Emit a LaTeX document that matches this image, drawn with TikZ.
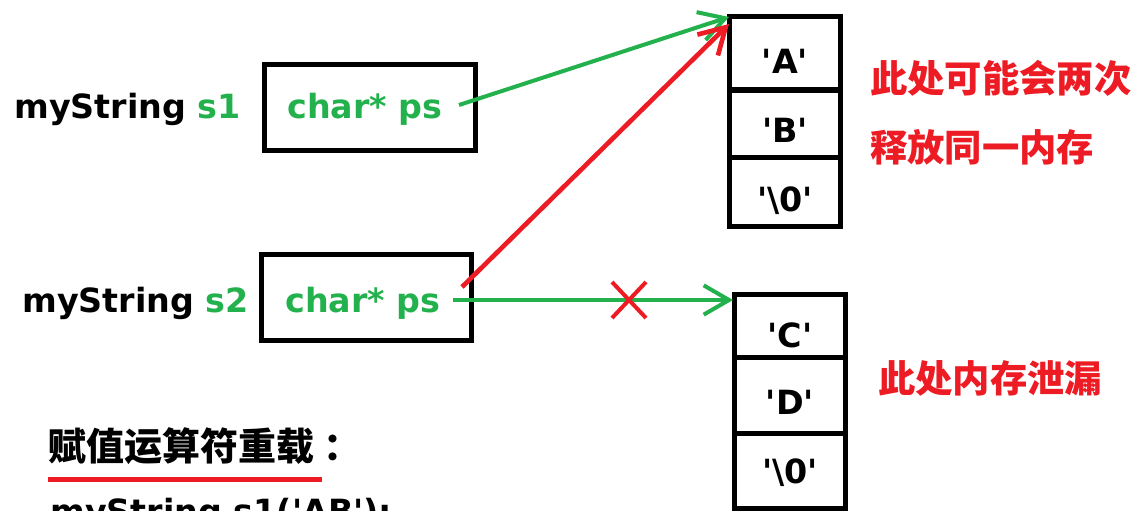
\documentclass[tikz,border=0pt]{standalone}
\usepackage{fontspec}
\setmainfont{DejaVu Sans}
\newfontfamily\cjk{Noto Sans CJK SC}
\usetikzlibrary{arrows.meta,calc}
\definecolor{grn}{RGB}{34,177,76}
\definecolor{rd}{RGB}{237,28,36}
\newcommand{\sq}{\textquotesingle}

\begin{document}
\begin{tikzpicture}[x=0.75pt,y=-0.75pt,
  lbl/.style={font=\bfseries\fontsize{25}{28}\selectfont, inner sep=0, anchor=base west},
  ptrbox/.style={draw, line width=3.75pt, minimum width=158pt, minimum height=64.5pt, inner sep=0},
  cellbox/.style={draw, line width=3.75pt, minimum width=83.25pt, inner sep=0},
  celltxt/.style={font=\bfseries\fontsize{25}{28}\selectfont, inner sep=0},
  note/.style={text=rd, font=\cjk\bfseries\fontsize{28}{30}\selectfont, anchor=west, inner sep=0},
  ptr/.style={line width=3pt, -{Straight Barb[length=19pt, width=22pt]}},
  crossline/.style={rd, line width=3pt}
]
\path[use as bounding box, clip] (0,0) rectangle (1137,510);

% pointer holders
\node[lbl] (n1) at (14,118) {myString \textcolor{grn}{s1}};
\node[ptrbox] (b1) at (370,107.5) {};
\node[lbl, text=grn] (t1) at (287,118) {char* ps};

\node[lbl] (n2) at (22,312) {myString \textcolor{grn}{s2}};
\node[ptrbox] (b2) at (366.5,297.5) {};
\node[lbl, text=grn] (t2) at (285,312) {char* ps};

% first heap block
\node[cellbox, minimum height=55.1pt] (a) at (785,53.25) {};
\node[cellbox, minimum height=50.25pt] (b) at (785,123.5) {};
\node[cellbox, minimum height=51.75pt] (z1) at (785,191.5) {};
\node[celltxt] (ta) at (785,61) {\sq A\sq};
\node[celltxt] (tb) at (785,130) {\sq B\sq};
\node[celltxt] (tz1) at (785,201) {\sq\textbackslash0\sq};

% second heap block
\node[cellbox, minimum height=46.9pt] (c) at (790,325.75) {};
\node[cellbox, minimum height=57pt] (d) at (790,395) {};
\node[cellbox, minimum height=56.25pt] (z2) at (790,470.5) {};
\node[celltxt] (tc) at (790,335) {\sq C\sq};
\node[celltxt] (td) at (790,402) {\sq D\sq};
\node[celltxt] (tz2) at (790,473) {\sq\textbackslash0\sq};

% connector ends
\coordinate (s1) at (459,105);
\coordinate (s2r) at (462,287);
\coordinate (s2g) at (453,300);
\coordinate (e1g) at (729,17);
\coordinate (e1r) at (729,24);
\coordinate (e2) at (733,300);
\coordinate (x) at (629,300);

\draw[ptr, grn] (s1) -- (e1g);
\draw[ptr, rd, line width=3.5pt] (s2r) -- (e1r);
\draw[ptr, grn] (s2g) -- (e2);
\draw[crossline] ($(x)+(-17,-18)$) -- ($(x)+(17,18)$);
\draw[crossline] ($(x)+(17,-18)$) -- ($(x)+(-17,18)$);

% remarks
\node[note] (m1) at (870,78) {此处可能会两次};
\node[note] (m2) at (870,147) {释放同一内存};
\node[note] (m3) at (878,378) {此处内存泄漏};

% heading and code line
\node[note, text=black, font=\cjk\bfseries\fontsize{28.5}{30}\selectfont] (h) at (48,446) {赋值运算符重载\hspace{7pt}：};
\coordinate (u1) at (48,479);
\coordinate (u2) at (322,479);
\draw[rd, line width=3.75pt] (u1) -- (u2);
\node[lbl] (code) at (50,523) {myString s1(\sq AB\sq);};
\end{tikzpicture}
\end{document}
